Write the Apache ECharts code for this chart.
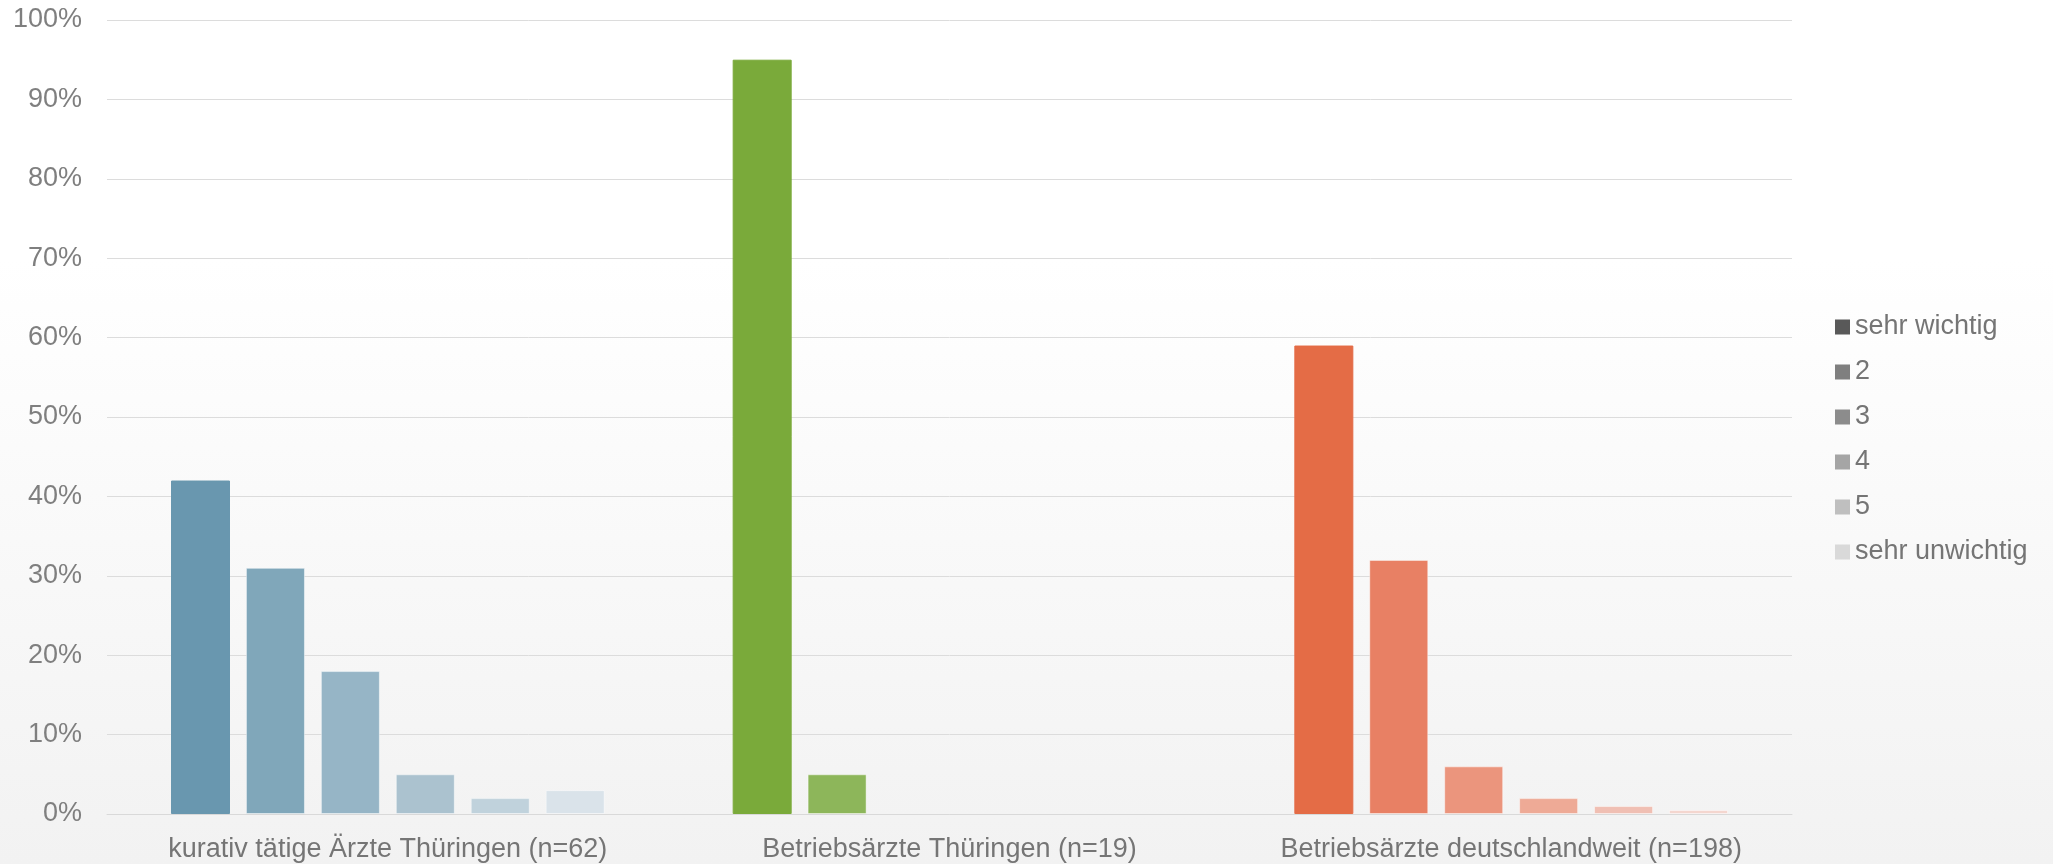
<!DOCTYPE html>
<html>
<head>
<meta charset="utf-8">
<script src="https://cdn.jsdelivr.net/npm/echarts@6/dist/echarts.min.js"></script>
<style>
  html, body { margin: 0; padding: 0; }
  #chart {
    width: 2053px; height: 864px;
    background: linear-gradient(to bottom, #ffffff 0%, #ffffff 30%, #f2f2f2 100%);
  }
</style>
</head>
<body>
<div id="chart"></div>
<script>
// Kategorien (Gruppen)
let groups = ['kurativ tätige Ärzte Thüringen (n=62)', 'Betriebsärzte Thüringen (n=19)', 'Betriebsärzte deutschlandweit (n=198)']
// Antwortstufen
let levels = ['sehr wichtig', '2', '3', '4', '5', 'sehr unwichtig']

// Werte in %, je Stufe über die drei Gruppen
let sehrWichtig = [42, 95, 59]
let stufe2 = [31, 5, 32]
let stufe3 = [18, 0, 6]
let stufe4 = [5, 0, 2]
let stufe5 = [2, 0, 1]
let sehrUnwichtig = [3, 0, 0.5]
let values = [sehrWichtig, stufe2, stufe3, stufe4, stufe5, sehrUnwichtig]

let yTicks = [0, 10, 20, 30, 40, 50, 60, 70, 80, 90, 100]

// Farben
let legendGray = ['#595959', '#7f7f7f', '#8c8c8c', '#a5a5a5', '#bfbfbf', '#d9d9d9']
let blueShades = ['#6997af', '#80a7ba', '#96b5c6', '#abc2cf', '#c0d2dc', '#dae3ea']
let greenShades = ['#7aaa3a', '#8db65a', '#a3c47c', '#b8d29d', '#cddfbd', '#e2ecdb']
let orangeShades = ['#e46c46', '#e88064', '#eb957d', '#eeaa96', '#f0bfb3', '#f4d6cf']
let groupShades = [blueShades, greenShades, orangeShades]

let chart = echarts.init(document.getElementById('chart'))

let series = levels.map((name, s) => {
    return {
        name: name,
        type: 'bar',
        barWidth: 59,
        barGap: '27%',
        itemStyle: { color: legendGray[s] },
        data: values[s].map((v, g) => ({
            value: v,
            itemStyle: {
                color: groupShades[g][s],
                borderColor: s == 0 ? groupShades[g][s] : 'rgba(255,255,255,0.45)',
                borderWidth: v > 0 ? 1 : 0
            }
        }))
    }
})

let option = {
    animation: false,
    textStyle: { fontFamily: 'Liberation Sans, Arial, sans-serif' },
    grid: { left: 107, right: 261, top: 20, bottom: 50 },
    legend: {
        data: levels,
        orient: 'vertical',
        left: 1830,
        top: 308,
        icon: 'rect',
        itemWidth: 15,
        itemHeight: 15,
        itemGap: 17,
        textStyle: { color: '#757575', fontSize: 27, lineHeight: 28 }
    },
    xAxis: {
        type: 'category',
        data: groups,
        axisTick: { show: false },
        axisLine: { lineStyle: { color: '#d9d9d9', width: 1 } },
        axisLabel: { color: '#757575', fontSize: 27, margin: 22, interval: 0, hideOverlap: false }
    },
    yAxis: {
        type: 'value',
        min: yTicks[0],
        max: yTicks[yTicks.length - 1],
        interval: 10,
        axisLine: { show: false },
        axisTick: { show: false },
        axisLabel: { color: '#7f7f7f', fontSize: 27, margin: 25, formatter: '{value}%' },
        splitLine: { lineStyle: { color: '#dcdcdc', width: 1 } }
    },
    series: series
}

chart.setOption(option)
</script>
</body>
</html>
